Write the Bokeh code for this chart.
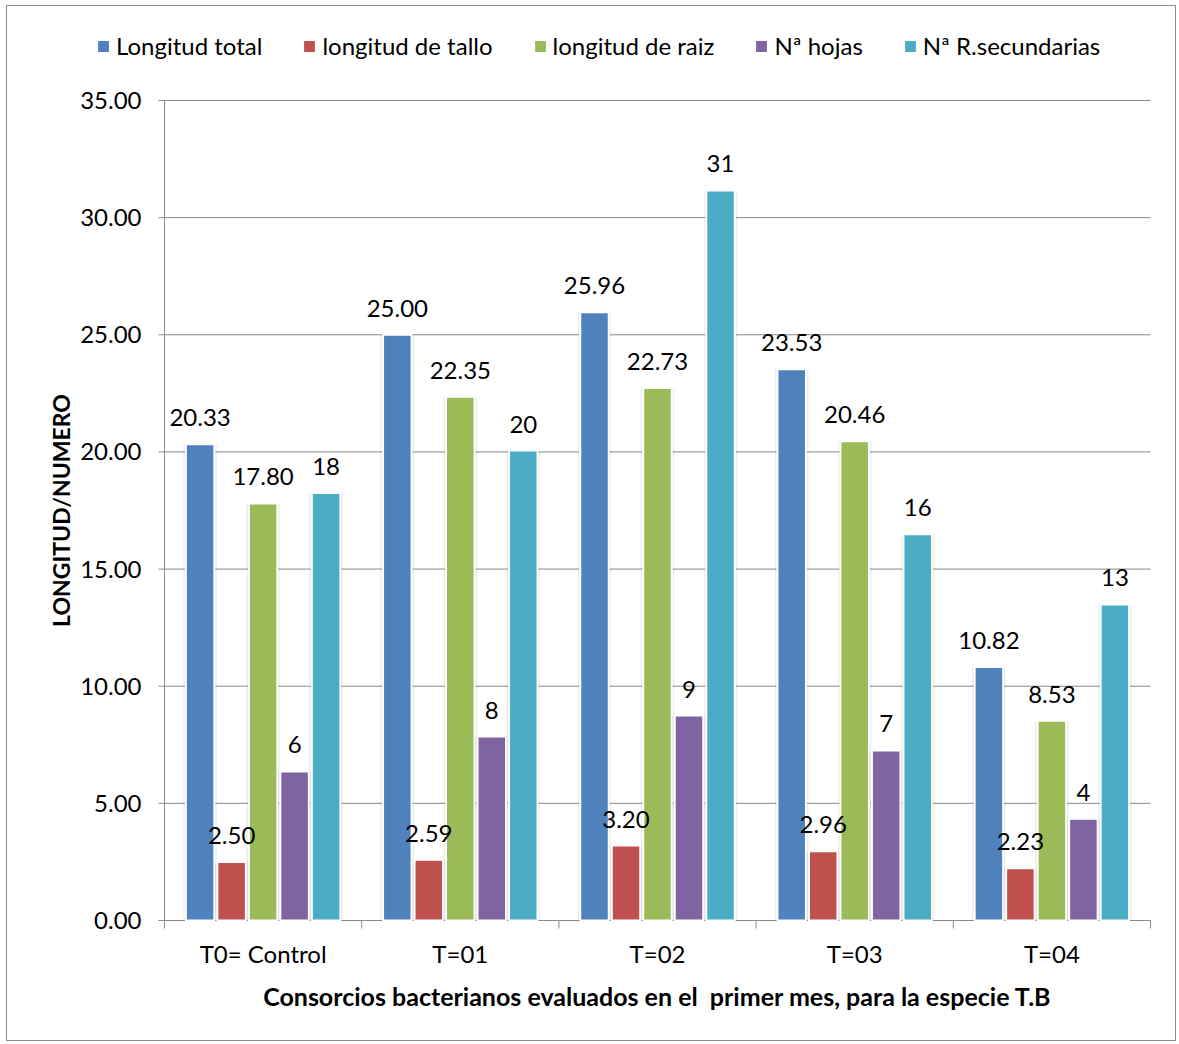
import math
from bokeh.plotting import figure
from bokeh.models import ColumnDataSource, Range1d, Legend, LegendItem
from bokeh.embed import file_html
from bokeh.resources import INLINE
from bokeh.core.properties import value

# --- data -------------------------------------------------------------
categories = ["T0= Control", "T=01", "T=02", "T=03", "T=04"]
series_names = ["Longitud total", "longitud de tallo", "longitud de raiz", "Nª hojas", "Nª R.secundarias"]

longitud_total = [20.33, 25.00, 25.96, 23.53, 10.82]
longitud_tallo = [2.50, 2.59, 3.20, 2.96, 2.23]
longitud_raiz = [17.80, 22.35, 22.73, 20.46, 8.53]
n_hojas = [6.36, 7.85, 8.75, 7.26, 4.34]
n_r_secundarias = [18.25, 20.06, 31.16, 16.49, 13.49]

series_values = [longitud_total, longitud_tallo, longitud_raiz, n_hojas, n_r_secundarias]
label_decimals = [2, 2, 2, 0, 0]
colors = ["#4F81BD", "#C0504D", "#9BBB59", "#8064A2", "#4BACC6"]
y_ticks = [0, 5, 10, 15, 20, 25, 30, 35]
y_max = 35
y_title = "LONGITUD/NUMERO"
x_title = "Consorcios bacterianos evaluados en el\u00a0 primer mes, para la especie T.B"

FONT = "Lato"
GRID = "#8a8a8a"

# --- layout (pixels) ------------------------------------------------------
# The frame fills the whole canvas; axes, titles and legend are drawn
# inside it around the 0..35 / 5-category plotting area.
FIG_W, FIG_H = 1170, 1036
PAD_L, PAD_R, PAD_T, PAD_B = 157, 27, 94, 122   # canvas edge -> plotting area
PLOT_W_PX = FIG_W - PAD_L - PAD_R
PLOT_H_PX = FIG_H - PAD_T - PAD_B
n_cat = len(categories)
unit_x = PLOT_W_PX / n_cat
unit_y = PLOT_H_PX / y_max

p = figure(width=FIG_W, height=FIG_H, output_backend="svg", toolbar_location=None,
           x_axis_location=None, y_axis_location=None,
           x_range=Range1d(-PAD_L / unit_x, n_cat + PAD_R / unit_x),
           y_range=Range1d(-PAD_B / unit_y, y_max + PAD_T / unit_y),
           min_border=0)
p.styles = {"border": "1px solid #8c8c8c", "margin": "5px 0 0 6px"}
p.outline_line_color = None
p.background_fill_color = "white"
p.border_fill_color = "white"
p.xgrid.visible = False
p.ygrid.visible = False

# --- gridlines and value axis -------------------------------------------
grid_src = ColumnDataSource(dict(y=y_ticks[1:], x0=[0] * (len(y_ticks) - 1),
                                 x1=[n_cat] * (len(y_ticks) - 1)))
p.segment(x0="x0", y0="y", x1="x1", y1="y", source=grid_src, line_color=GRID, line_width=1)

y_tick_len = 6 / unit_x
ytick_src = ColumnDataSource(dict(y=y_ticks, x0=[-y_tick_len] * len(y_ticks), x1=[0] * len(y_ticks),
                                  label=[f"{t:.2f}" for t in y_ticks]))
p.segment(x0="x0", y0="y", x1="x1", y1="y", source=ytick_src, line_color=GRID, line_width=1)
p.segment(x0=[0], y0=[0], x1=[0], y1=[y_max], line_color=GRID, line_width=1)
p.text(x=0, y="y", text="label", source=ytick_src, text_align="right", text_baseline="middle",
       x_offset=-23, text_font=value(FONT), text_font_size="24px", text_color="black")
p.text(x=[0], y=[y_max / 2], text=[y_title], angle=math.pi / 2, text_align="center",
       text_baseline="middle", x_offset=-104, text_font=value(FONT), text_font_style="bold",
       text_font_size="23px", text_color="black")

# --- category axis ------------------------------------------------------
x_tick_len = 8 / unit_y
bounds = list(range(n_cat + 1))
xtick_src = ColumnDataSource(dict(x=bounds, y0=[0] * len(bounds), y1=[-x_tick_len] * len(bounds)))
p.segment(x0="x", y0="y0", x1="x", y1="y1", source=xtick_src, line_color=GRID, line_width=1)
p.segment(x0=[0], y0=[0], x1=[n_cat], y1=[0], line_color=GRID, line_width=1)
cat_src = ColumnDataSource(dict(x=[i + 0.5 for i in range(n_cat)], y=[0] * n_cat, label=categories))
p.text(x="x", y="y", text="label", source=cat_src, text_align="center", text_baseline="middle",
       y_offset=33, text_font=value(FONT), text_font_size="24px", text_color="black")
p.text(x=[n_cat / 2], y=[0], text=[x_title], text_align="center", text_baseline="middle",
       y_offset=75, text_font=value(FONT), text_font_style="bold", text_font_size="25px",
       text_color="black")

# --- bars -------------------------------------------------------------------
stride = 31.5 / unit_x
bar_w = 28.5 / unit_x
shadow_w = 33.5 / unit_x

legend_items = []
sources = []
for k, (name, vals, col, dec) in enumerate(zip(series_names, series_values, colors, label_decimals)):
    xs = [i + 0.5 + (k - 2) * stride for i in range(n_cat)]
    labels = [f"{v:.{dec}f}" for v in vals]
    src = ColumnDataSource(dict(x=xs, top=vals, label=labels))
    sources.append(src)
    # soft halo around each bar
    p.vbar(x="x", top="top", width=shadow_w, source=src, fill_color="#000000",
           fill_alpha=0.07, line_color=None)
    r = p.vbar(x="x", top="top", width=bar_w, source=src, fill_color=col,
               line_color="white", line_width=2)
    legend_items.append(LegendItem(label=name, renderers=[r]))

# value labels drawn over all bars
for src in sources:
    p.text(x="x", y="top", text="label", source=src, text_align="center",
           text_baseline="bottom", y_offset=-18, text_font=value(FONT),
           text_font_size="24px", text_color="black")

# --- legend along the top ----------------------------------------------
legend = Legend(items=legend_items, orientation="horizontal", location=(88, 982),
                glyph_width=16, glyph_height=16, label_standoff=5, spacing=39,
                label_text_font=FONT, label_text_font_size="24px", label_text_color="black",
                padding=0, margin=0, border_line_color=None, background_fill_alpha=0)
p.add_layout(legend, "center")

open("out.html", "w").write(file_html(p, INLINE))
